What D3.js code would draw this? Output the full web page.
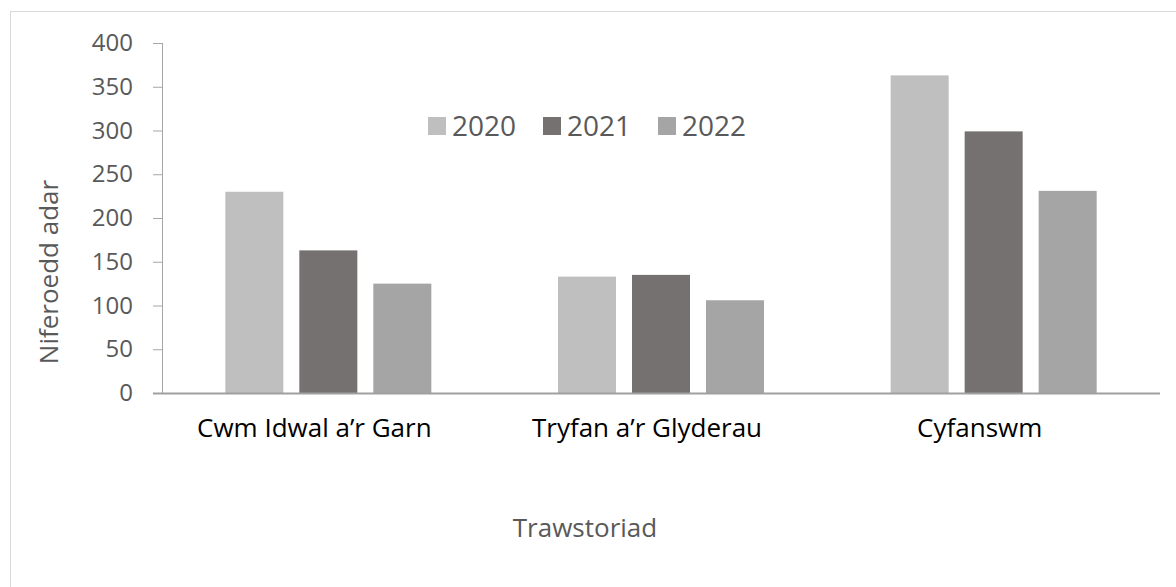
<!DOCTYPE html>
<html>
<head>
<meta charset="utf-8">
<script src="https://cdn.jsdelivr.net/npm/d3@7"></script>
<style>
  html, body { margin: 0; padding: 0; background: #fff; }
  svg { display: block; }
  text { font-family: "Open Sans", sans-serif; }
</style>
</head>
<body>
<svg id="chart" width="1176" height="587"></svg>
<script>
const categories = ["Cwm Idwal a\u2019r Garn", "Tryfan a\u2019r Glyderau", "Cyfanswm"];
const seriesNames = ["2020", "2021", "2022"];
const values2020 = [230, 133, 363];
const values2021 = [163, 135, 299];
const values2022 = [125, 106, 231];
const yTicks = [0, 50, 100, 150, 200, 250, 300, 350, 400];
const colors = ["#bfbfbf", "#767171", "#a5a5a5"];

(function () {
const series = [values2020, values2021, values2022];
const svg = d3.select("#chart");

// outer border
svg.append("rect").attr("x", 10.5).attr("y", 11.5).attr("width", 1180).attr("height", 590)
  .attr("fill", "none").attr("stroke", "#d9d9d9").attr("stroke-width", 1);

const pLeft = 162, pRight = 1160, pTop = 43, pBottom = 393;
const x0 = d3.scaleBand().domain(categories).range([pLeft, pRight]).paddingInner(0).paddingOuter(0);
const groupW = 206;
const x1 = d3.scaleBand().domain(seriesNames).range([0, groupW]).paddingInner(0.216).paddingOuter(0);
const y = d3.scaleLinear().domain([0, 400]).range([pBottom, pTop]);

// bars
const g = svg.append("g");
categories.forEach((c, ci) => {
  const gx = x0(c) + (x0.bandwidth() - groupW) / 2;
  seriesNames.forEach((s, si) => {
    const v = series[si][ci];
    g.append("rect")
      .attr("x", gx + x1(s))
      .attr("y", y(v))
      .attr("width", x1.bandwidth())
      .attr("height", y(0) - y(v))
      .attr("fill", colors[si]);
  });
});

// y axis
const yAxis = d3.axisLeft(y).tickValues(yTicks).tickSize(9).tickPadding(20);
const ya = svg.append("g").attr("transform", `translate(${pLeft},0)`).call(yAxis);
ya.select(".domain").attr("stroke", "#a6a6a6").attr("d", `M0.5,${pTop}V${pBottom}`);
ya.selectAll(".tick line").attr("stroke", "#a6a6a6");
ya.selectAll(".tick text").attr("fill", "#595959").style("font-size", "24px")
  .style("font-family", "'Open Sans', sans-serif");

// x axis line
svg.append("line").attr("x1", 153).attr("x2", pRight).attr("y1", pBottom + 0.5).attr("y2", pBottom + 0.5)
  .attr("stroke", "#a0a0a0").attr("stroke-width", 2);

// category labels
const xAxis = d3.axisBottom(x0).tickSize(0).tickPadding(26);
const xa = svg.append("g").attr("transform", `translate(-14,${pBottom})`).call(xAxis);
xa.select(".domain").remove();
xa.selectAll(".tick text").attr("fill", "#000").style("font-size", "26px")
  .style("font-family", "'Open Sans', sans-serif");

// axis titles
svg.append("text").attr("transform", "translate(58,272) rotate(-90)")
  .attr("text-anchor", "middle").attr("fill", "#595959").style("font-size", "26px")
  .text("Niferoedd adar");
svg.append("text").attr("x", 585).attr("y", 537)
  .attr("text-anchor", "middle").attr("fill", "#595959").style("font-size", "26px")
  .text("Trawstoriad");

// legend
const legendX = [428, 543, 658];
seriesNames.forEach((s, i) => {
  svg.append("rect").attr("x", legendX[i]).attr("y", 117).attr("width", 18).attr("height", 18)
    .attr("fill", colors[i]);
  svg.append("text").attr("x", legendX[i] + 24).attr("y", 136).attr("fill", "#595959")
    .style("font-size", "28px").text(s);
});
})();
</script>
</body>
</html>
